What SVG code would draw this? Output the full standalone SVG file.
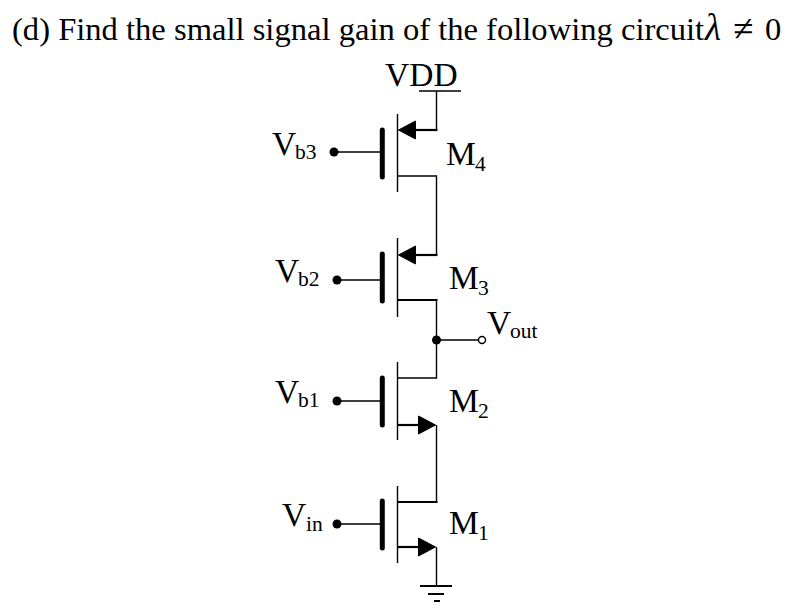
<svg xmlns="http://www.w3.org/2000/svg" width="797" height="612" viewBox="0 0 797 612">
<style>
text{font-family:"Liberation Serif","Times New Roman",serif;fill:#000}
.t{font-size:32.6px}
.l{font-size:33.5px}
.s{font-size:21.5px}
.w{fill:none;stroke:#000;stroke-width:1.4}
.h{fill:none;stroke:#000;stroke-width:2.2}
.g{stroke:#000;stroke-width:5;stroke-linecap:round;fill:none}
.a{fill:#000;stroke:#000;stroke-width:1;stroke-linejoin:miter}
.d{fill:#000}
</style>
<rect width="797" height="612" fill="#fff"/>
<g id="title">
<text class="t" x="12" y="40">(d) Find the small signal gain of the following circuit</text>
<text x="705" y="40" font-size="37" style="font-style:italic">λ</text>
<text x="733" y="41" font-size="37">≠</text>
<text class="t" x="765" y="40">0</text>
</g>
<g id="connectors">
<path class="w" d="M419 91H461M436.500 91V130"/>
<path class="h" d="M412 130H437.500"/>
<path class="w" d="M397.500 176H436.500V255"/>
<path class="h" d="M412 255H437.500"/>
<path class="h" d="M397.500 300H437.500"/>
<path class="w" d="M436.500 300V378H397.500"/>
<path class="w" d="M436.500 340H479"/>
<path class="h" d="M397.500 425H420"/>
<path class="w" d="M436.500 425V502"/>
<path class="h" d="M397.500 502H437.500"/>
<path class="h" d="M397.500 547H420"/>
<path class="w" d="M436.500 547V586"/>
<path class="w" d="M334 152H380M337 280H380M337 401H380M337 524H380"/>
</g>
<g id="VDD"><text class="l" x="385" y="86">VDD</text></g>
<g id="M4">
<path class="w" d="M397.500 114V192"/><path class="g" d="M382.300 130V177"/>
<path class="a" d="M398.500 130L415.500 121V139Z"/>
<circle class="d" cx="334" cy="152" r="4.500"/>
<text class="l" x="272" y="155">V</text><text class="s" x="295" y="159">b3</text>
<text class="l" x="446" y="165">M</text><text class="s" x="475" y="171">4</text>
</g>
<g id="M3">
<path class="w" d="M397.500 238V317"/><path class="g" d="M382.300 254V301"/>
<path class="a" d="M398.500 255L415.500 246V264Z"/>
<circle class="d" cx="337" cy="280" r="4.500"/>
<text class="l" x="275" y="282">V</text><text class="s" x="298" y="286">b2</text>
<text class="l" x="449" y="289">M</text><text class="s" x="478" y="295">3</text>
</g>
<g id="Vout">
<circle class="d" cx="436.500" cy="340" r="4.500"/>
<circle cx="482" cy="340" r="3.500" fill="#fff" stroke="#000" stroke-width="1.400"/>
<text class="l" x="487" y="334">V</text><text class="s" x="510" y="338">out</text>
</g>
<g id="M2">
<path class="w" d="M397.500 362V440"/><path class="g" d="M382.300 378V425"/>
<path class="a" d="M435.500 425L418.500 416V434Z"/>
<circle class="d" cx="337" cy="401" r="4.500"/>
<text class="l" x="275" y="403">V</text><text class="s" x="298" y="407">b1</text>
<text class="l" x="449" y="412">M</text><text class="s" x="478" y="418">2</text>
</g>
<g id="M1">
<path class="w" d="M397.500 486V563"/><path class="g" d="M382.300 501V548"/>
<path class="a" d="M435.500 547L418.500 538V556Z"/>
<circle class="d" cx="337" cy="524" r="4.500"/>
<text class="l" x="282" y="526">V</text><text class="s" x="306" y="531">in</text>
<text class="l" x="449" y="534">M</text><text class="s" x="478" y="540">1</text>
</g>
<g id="GND">
<path class="h" d="M420 586H452M428 594H444M434 601H440"/>
</g>
</svg>
